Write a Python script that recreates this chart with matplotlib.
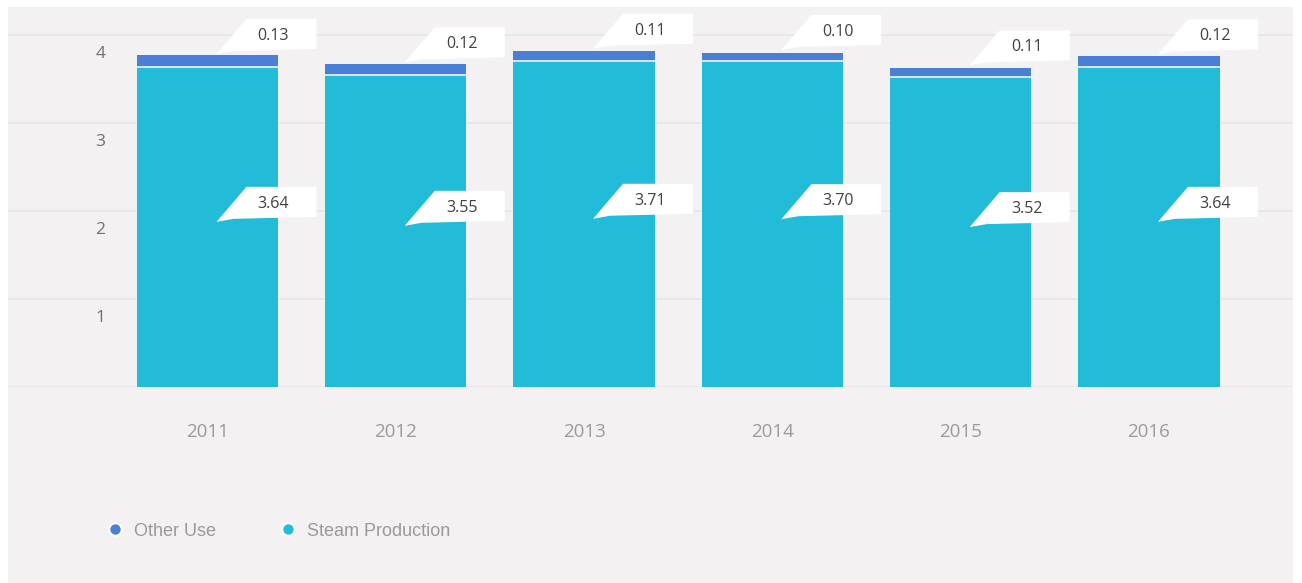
import matplotlib
matplotlib.use("Agg")
import matplotlib.pyplot as plt
from matplotlib.patches import Polygon, Rectangle
from matplotlib.lines import Line2D
from matplotlib import transforms
import numpy as np

# Data
years = ["2011", "2012", "2013", "2014", "2015", "2016"]
steam_production = [3.64, 3.55, 3.71, 3.70, 3.52, 3.64]
other_use = [0.13, 0.12, 0.11, 0.10, 0.11, 0.12]
y_ticks = [1, 2, 3, 4]

STEAM = "#22bcd9"
OTHER = "#4a7fd4"
PANEL = "#f3f1f2"
GRID = "#e7e5e6"

W, H = 1302, 583
fig = plt.figure(figsize=(W / 100, H / 100), dpi=100, facecolor="white")

# light panel behind chart and legend
fig.patches.append(Rectangle((8 / W, 0), 1285 / W, (H - 7) / H,
                             transform=fig.transFigure, facecolor=PANEL,
                             edgecolor="none", zorder=-10))

ax = fig.add_axes([8 / W, (H - 387) / H, 1285 / W, 380 / H])
ax.set_facecolor("none")
ax.set_xlim(-1.0595, 5.765)
ax.set_ylim(0, 380 / 88)
for s in ax.spines.values():
    s.set_visible(False)

x = np.arange(len(years))
steam = np.array(steam_production)
other = np.array(other_use)
bw = 0.75

ax.bar(x, steam, width=bw, color=STEAM, linewidth=0, zorder=2)
ax.bar(x, other, width=bw, bottom=steam, color=OTHER, linewidth=0, zorder=2)
ax.hlines(steam, x - bw / 2, x + bw / 2, color="white", alpha=0.85, lw=1.3, zorder=3)

ax.set_axisbelow(True)
ax.grid(axis="y", color=GRID, lw=1.2)
ax.grid(axis="x", visible=False)

ax.set_xticks(x, years)
ax.tick_params(axis="x", length=0, pad=26, labelsize=13.5, labelcolor="#9b9b9b")
ax.set_yticks([0] + y_ticks, [""] + [str(v) for v in y_ticks])
ax.tick_params(axis="y", length=0, pad=-70, labelsize=12.5, labelcolor="#707070")
for lab in ax.get_xticklabels() + ax.get_yticklabels():
    lab.set_fontfamily("Open Sans")
shift = transforms.ScaledTranslation(0, -17 / 100, fig.dpi_scale_trans)
for t in ax.yaxis.get_major_ticks():
    t.label1.set_transform(t.label1.get_transform() + shift)


def callout(xc, ymid, text, lift):
    """White tag with a slanted tail pointing at (xc, ymid); offsets in pixels."""
    trans = fig.dpi_scale_trans + transforms.ScaledTranslation(xc, ymid, ax.transData)
    p = lambda a, b: (a / 100, b / 100)
    verts = [p(9, lift), p(39, lift + 35), p(109, lift + 35),
             p(109, lift + 5), p(26, lift + 3)]
    ax.add_patch(Polygon(verts, closed=True, transform=trans,
                         facecolor="white", edgecolor="none", zorder=5))
    ax.text(66 / 100, (lift + 18) / 100, text, transform=trans,
            ha="center", va="center", fontsize=11.5, color="#404040",
            family="Open Sans", zorder=6)


for xi, s, o in zip(x, steam, other):
    callout(xi, s / 2, f"{s:.2f}", 5)
    callout(xi, s + o / 2, f"{o:.2f}", 7)

handles = [
    Line2D([], [], marker="o", ls="none", markersize=9, markerfacecolor=OTHER,
           markeredgecolor="white", markeredgewidth=1.5),
    Line2D([], [], marker="o", ls="none", markersize=9, markerfacecolor=STEAM,
           markeredgecolor="white", markeredgewidth=1.5),
]
fig.legend(handles, ["Other Use", "Steam Production"], loc="center left",
           bbox_to_anchor=(106 / W, 1 - 531 / H), ncol=2, frameon=False,
           handlelength=1.0, handletextpad=0.55, columnspacing=3.5,
           borderpad=0, borderaxespad=0, labelcolor="#9a9a9a",
           prop={"family": "Liberation Sans", "size": 13})

fig.savefig("out.png", dpi=100, facecolor="white")
